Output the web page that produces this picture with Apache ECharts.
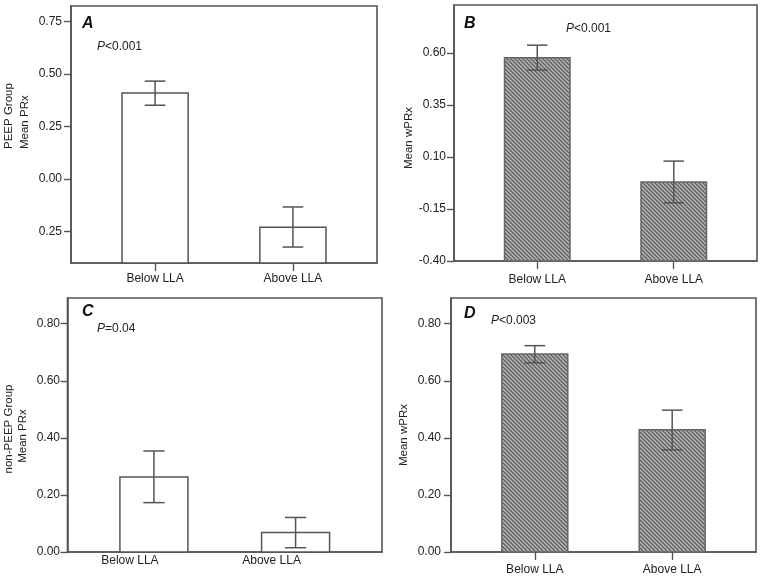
<!DOCTYPE html>
<html><head><meta charset="utf-8">
<script src="https://cdn.jsdelivr.net/npm/echarts@6/dist/echarts.min.js"></script>
<style>html,body{margin:0;padding:0;background:#fff}#c{width:762px;height:577px}</style>
</head><body><div id="c"></div>
<script>
const categories = ['Below LLA', 'Above LLA'];
// Panel A (PEEP group, PRx)
const meanA = [0.41, -0.23], lowA = [0.352, -0.324], highA = [0.467, -0.133];
// Panel B (PEEP group, wPRx)
const meanB = [0.576, -0.02], lowB = [0.517, -0.12], highB = [0.637, 0.08];
// Panel C (non-PEEP group, PRx)
const meanC = [0.263, 0.068], lowC = [0.173, 0.015], highC = [0.354, 0.121];
// Panel D (non-PEEP group, wPRx)
const meanD = [0.694, 0.428], lowD = [0.663, 0.358], highD = [0.723, 0.497];
// Tick values and labels
const ticksA = [-0.25, 0, 0.25, 0.5, 0.75];
const tickLabelsA = ['0.25', '0.00', '0.25', '0.50', '0.75'];
const ticksB = [-0.40, -0.15, 0.10, 0.35, 0.60];
const tickLabelsB = ['-0.40', '-0.15', '0.10', '0.35', '0.60'];
const ticksCD = [0, 0.2, 0.4, 0.6, 0.8];
const tickLabelsCD = ['0.00', '0.20', '0.40', '0.60', '0.80'];
const rangeA = [-0.40, 0.825], rangeB = [-0.40, 0.83], rangeCD = [0, 0.89];
const pTexts = ['<0.001', '<0.001', '=0.04', '<0.003'];
const letters = ['A', 'B', 'C', 'D'];

const FONT = '"Liberation Sans", Arial, sans-serif';
const LINE = '#555';

// hatch pattern
const pc = document.createElement('canvas');
pc.width = 4; pc.height = 4;
const ctx = pc.getContext('2d');
ctx.fillStyle = '#b0b0b0';
ctx.fillRect(0, 0, 4, 4);
ctx.strokeStyle = '#585858';
ctx.lineWidth = 1.2;
ctx.beginPath();
ctx.moveTo(-1, -1); ctx.lineTo(5, 5);
ctx.moveTo(-1, 3); ctx.lineTo(1, 5);
ctx.moveTo(3, -1); ctx.lineTo(5, 1);
ctx.stroke();
const hatch = { image: pc, repeat: 'repeat' };

const panels = [
  { mean: meanA, low: lowA, high: highA, ticks: ticksA, labels: tickLabelsA, range: rangeA, fill: '#fff',
    grid: { left: 71, top: 6, width: 306, height: 257 }, xTick: true, xMargin: 10, xPad: [0, 0, 0, 0], yMargin: 9 },
  { mean: meanB, low: lowB, high: highB, ticks: ticksB, labels: tickLabelsB, range: rangeB, fill: hatch,
    grid: { left: 454, top: 5, width: 303, height: 256 }, xTick: true, xMargin: 13, xPad: [0, 0, 0, 0], yMargin: 8 },
  { mean: meanC, low: lowC, high: highC, ticks: ticksCD, labels: tickLabelsCD, range: rangeCD, fill: '#fff',
    grid: { left: 67.5, top: 298, width: 314.5, height: 254 }, xTick: false, xMargin: 3, xPad: [0, 48, 0, 0], yMargin: 7.5 },
  { mean: meanD, low: lowD, high: highD, ticks: ticksCD, labels: tickLabelsCD, range: rangeCD, fill: hatch,
    grid: { left: 451, top: 298, width: 305, height: 254 }, xTick: true, xMargin: 12, xPad: [0, 0, 0, 0], yMargin: 10 }
];

const grids = [], xAxes = [], yAxes = [], series = [];
panels.forEach((p, i) => {
  grids.push(Object.assign({ show: true, borderColor: LINE, borderWidth: 1.6, backgroundColor: '#fff' }, p.grid));
  xAxes.push({
    type: 'value', gridIndex: i, min: -0.61, max: 1.61,
    axisLine: { show: true, onZero: false, lineStyle: { color: LINE, width: 1.6 } },
    splitLine: { show: false },
    axisTick: { show: p.xTick, length: 8, lineStyle: { color: LINE, width: 1.4 }, customValues: [0, 1] },
    axisLabel: { customValues: [0, 1], margin: p.xMargin, padding: p.xPad, color: '#222', fontSize: 12, fontFamily: FONT,
      formatter: v => categories[Math.round(v)] }
  });
  yAxes.push({
    type: 'value', gridIndex: i, min: p.range[0], max: p.range[1],
    axisLine: { show: true, onZero: false, lineStyle: { color: LINE, width: 1.6 } },
    splitLine: { show: false },
    axisTick: { show: true, length: 7, lineStyle: { color: LINE, width: 1.4 }, customValues: p.ticks },
    axisLabel: { customValues: p.ticks, margin: p.yMargin, color: '#222', fontSize: 12, fontFamily: FONT,
      formatter: v => { const k = p.ticks.findIndex(t => Math.abs(t - v) < 1e-6); return k >= 0 ? p.labels[k] : ''; } }
  });
  const fill = p.fill;
  series.push({
    type: 'custom', xAxisIndex: i, yAxisIndex: i,
    data: categories.map((c, k) => [k, p.mean[k], p.low[k], p.high[k]]),
    encode: { x: 0, y: 1 },
    renderItem: function (params, api) {
      const x = api.value(0), m = api.value(1), lo = api.value(2), hi = api.value(3);
      const cs = params.coordSys;
      const base = cs.y + cs.height;
      const top = api.coord([x, m]);
      const bw = api.size([0.48, 0])[0];
      const cw = api.size([0.15, 0])[0];
      const pLo = api.coord([x, lo]), pHi = api.coord([x, hi]);
      const st = { stroke: LINE, lineWidth: 1.5 };
      return { type: 'group', children: [
        { type: 'rect', shape: { x: top[0] - bw / 2, y: top[1], width: bw, height: base - top[1] },
          style: { fill: fill, stroke: fill === '#fff' ? LINE : '#666', lineWidth: 1.5 } },
        { type: 'line', shape: { x1: pLo[0], y1: pLo[1], x2: pHi[0], y2: pHi[1] }, style: st },
        { type: 'line', shape: { x1: pLo[0] - cw / 2, y1: pLo[1], x2: pLo[0] + cw / 2, y2: pLo[1] }, style: st },
        { type: 'line', shape: { x1: pHi[0] - cw / 2, y1: pHi[1], x2: pHi[0] + cw / 2, y2: pHi[1] }, style: st }
      ] };
    }
  });
});

const letterPos = [[82, 16], [464, 16], [82, 304], [464, 306]];
const pPos = [[97, 41], [566, 23], [97, 323], [491, 315]];
const graphic = [];
letters.forEach((L, i) => {
  graphic.push({ type: 'text', x: letterPos[i][0], y: letterPos[i][1],
    style: { text: L, font: 'italic bold 16px ' + FONT, fill: '#111' } });
  graphic.push({ type: 'text', x: pPos[i][0], y: pPos[i][1],
    style: { text: '{i|P}' + pTexts[i], font: '12px ' + FONT, fill: '#222',
      rich: { i: { fontStyle: 'italic', fontSize: 12, fontFamily: FONT, fill: '#222' } } } });
});
const titles = [
  ['PEEP Group', 9, 149, 'left'], ['Mean PRx', 25, 149, 'left'],
  ['Mean wPRx', 409, 138, 'center'],
  ['non-PEEP Group', 9, 429, 'center'], ['Mean PRx', 22.5, 436, 'center'],
  ['Mean wPRx', 404, 435, 'center']
];
titles.forEach(t => graphic.push({ type: 'text', x: t[1], y: t[2], rotation: Math.PI / 2,
  style: { text: t[0], font: '11.5px ' + FONT, fill: '#222', align: t[3], verticalAlign: 'middle' } }));

const chart = echarts.init(document.getElementById('c'), null, { renderer: 'canvas' });
chart.setOption({
  animation: false, backgroundColor: '#fff',
  grid: grids, xAxis: xAxes, yAxis: yAxes, series: series, graphic: graphic
});
</script></body></html>
